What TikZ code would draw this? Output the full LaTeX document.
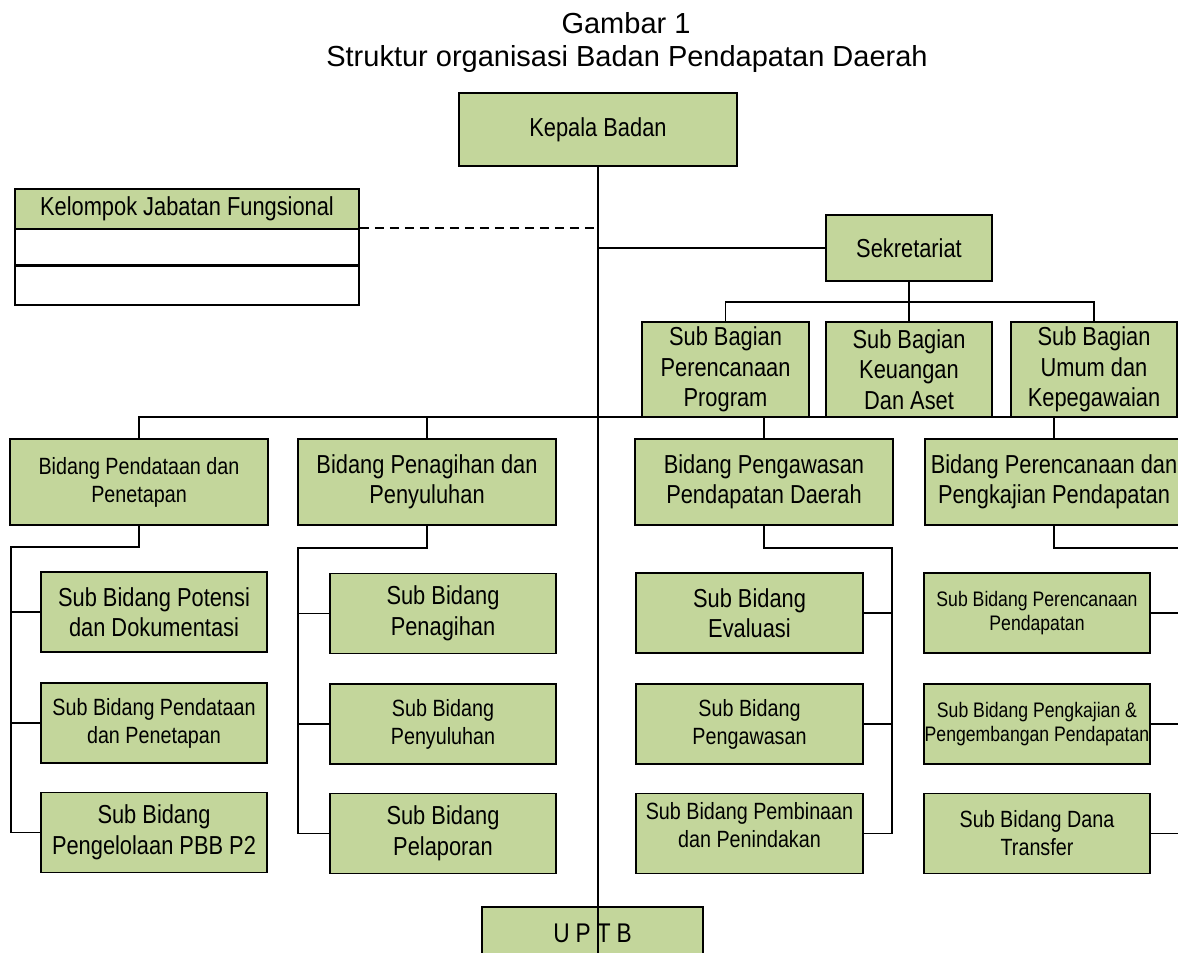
\documentclass[tikz,border=0pt]{standalone}
\usepackage{fontspec}
\setmainfont{Liberation Sans}
\newfontfamily\nar[FakeStretch=0.84]{Liberation Sans}
\usetikzlibrary{calc}
\definecolor{boxgreen}{HTML}{C3D69B}
\begin{document}
\begin{tikzpicture}[x=1pt,y=-1pt,
  bx/.style={draw=black, line width=1.6pt, fill=boxgreen, rectangle, inner sep=0pt, align=center, font=\nar\fontsize{26}{30.5}\selectfont},
  small/.style={font=\nar\fontsize{23.5}{28}\selectfont},
  bid/.style={bx, minimum width=258pt, minimum height=86pt},
  sub/.style={bx, minimum width=226pt, minimum height=80pt},
  sbg/.style={bx, minimum width=166pt, minimum height=95pt},
  ln/.style={line width=1.6pt, black},
  ]
\useasboundingbox (0,0) rectangle (1178,953);
\fill[white] (0,0) rectangle (1178,953);

% title
\node[font=\fontsize{29}{31}\selectfont, anchor=base, inner sep=0pt] (t1) at (626,33) {Gambar 1};
\node[font=\fontsize{29}{31}\selectfont, anchor=base, inner sep=0pt] (t2) at (627,66) {Struktur organisasi Badan Pendapatan Daerah};

% top
\node[bx, minimum width=278pt, minimum height=73pt] (kb) at (598,129.5) {Kepala Badan};
\node[bx, minimum width=344pt, minimum height=40pt] (kjf) at (187,209) {Kelompok Jabatan Fungsional};
\node[bx, fill=white, minimum width=344pt, minimum height=37pt] (kr1) at (187,247.5) {};
\node[bx, fill=white, minimum width=344pt, minimum height=39pt] (kr2) at (187,285.5) {};
\draw[line width=2.6pt] (kr2.north west) -- (kr2.north east);

\node[bx, minimum width=166pt, minimum height=66pt] (sek) at (909,248) {Sekretariat};
\node[sbg, minimum width=167pt] (sb1) at (725.5,369.5) {Sub Bagian\\Perencanaan\\Program};
\node[sbg] (sb2) at (909,369.5) {Sub Bagian\\Keuangan\\Dan Aset};
\node[sbg] (sb3) at (1094,369.5) {Sub Bagian\\Umum dan\\Kepegawaian};

% bidang
\node[bid, small] (A) at (139,482) {Bidang Pendataan dan\\Penetapan};
\node[bid] (B) at (427,482) {Bidang Penagihan dan\\Penyuluhan};
\node[bid] (C) at (764,482) {Bidang Pengawasan\\Pendapatan Daerah};
\node[bid] (D) at (1054,482) {Bidang Perencanaan dan\\Pengkajian Pendapatan};

% sub bidang
\node[sub] (A1) at (154,612) {Sub Bidang Potensi\\dan Dokumentasi};
\node[sub, small] (A2) at (154,723) {Sub Bidang Pendataan\\dan Penetapan};
\node[sub] (A3) at (154,832.5) {Sub Bidang\\Pengelolaan PBB P2};

\node[sub] (B1) at (443,613.5) {Sub Bidang\\Penagihan};
\node[sub, small] (B2) at (443,724) {Sub Bidang\\Penyuluhan};
\node[sub] (B3) at (443,833.5) {Sub Bidang\\Pelaporan};

\node[sub, minimum width=227pt] (C1) at (749.5,613) {Sub Bidang\\Evaluasi};
\node[sub, minimum width=227pt, small] (C2) at (749.5,724) {Sub Bidang\\Pengawasan};
\node[sub, minimum width=227pt] (C3) at (749.5,833.5) {};
\node[align=center, inner sep=0pt, small] (C3t) at (749.5,825) {Sub Bidang Pembinaan\\dan Penindakan};

\node[sub, font=\nar\fontsize{21}{24}\selectfont] (D1) at (1037,613) {Sub Bidang Perencanaan\\Pendapatan};
\node[sub, font=\nar\fontsize{21}{24}\selectfont] (D2) at (1037,724) {Sub Bidang Pengkajian \&\\Pengembangan Pendapatan};
\node[sub, small] (D3) at (1037,833.5) {Sub Bidang Dana\\Transfer};

\node[bx, minimum width=221pt, minimum height=56pt, font=\nar\fontsize{27}{30}\selectfont] (uptb) at (592.5,935) {\raisebox{3pt}{U\hspace{6pt}P\hspace{6pt}T\hspace{6pt}B}};

% connectors
\coordinate (bot) at (598,960);
\draw[ln] (kb.south) -- (bot);
\draw[ln, dash pattern=on 9pt off 6pt] (kr1.north east) -- (kr1.north east -| kb.south);
\draw[ln] (sek.west) -- (sek.west -| kb.south);

\coordinate (sbus) at (909,302);
\draw[ln] (sek.south) -- (sbus);
\draw[ln] (sb1.north) |- (sbus) -| (sb3.north);
\draw[ln] (sbus) -- (sb2.north);

\coordinate (bus) at (598,417);
\draw[ln] (A.north) |- (bus) -| (D.north);
\draw[ln] (B.north) -- (B.north |- bus);
\draw[ln] (C.north) -- (C.north |- bus);

\coordinate (ra) at (11,547);
\draw[ln] (A.south) |- (ra) |- (A3.west);
\draw[ln] (ra |- A1.west) -- (A1.west);
\draw[ln] (ra |- A2.west) -- (A2.west);

\coordinate (rb) at (298,548);
\draw[ln] (B.south) |- (rb) |- (B3.west);
\draw[ln] (rb |- B1.west) -- (B1.west);
\draw[ln] (rb |- B2.west) -- (B2.west);

\coordinate (rc) at (892,548);
\draw[ln] (C.south) |- (rc) |- (C3.east);
\draw[ln] (rc |- C1.east) -- (C1.east);
\draw[ln] (rc |- C2.east) -- (C2.east);

\coordinate (rd) at (1181,548);
\draw[ln] (D.south) |- (rd) |- (D3.east);
\draw[ln] (rd |- D1.east) -- (D1.east);
\draw[ln] (rd |- D2.east) -- (D2.east);
\end{tikzpicture}
\end{document}
